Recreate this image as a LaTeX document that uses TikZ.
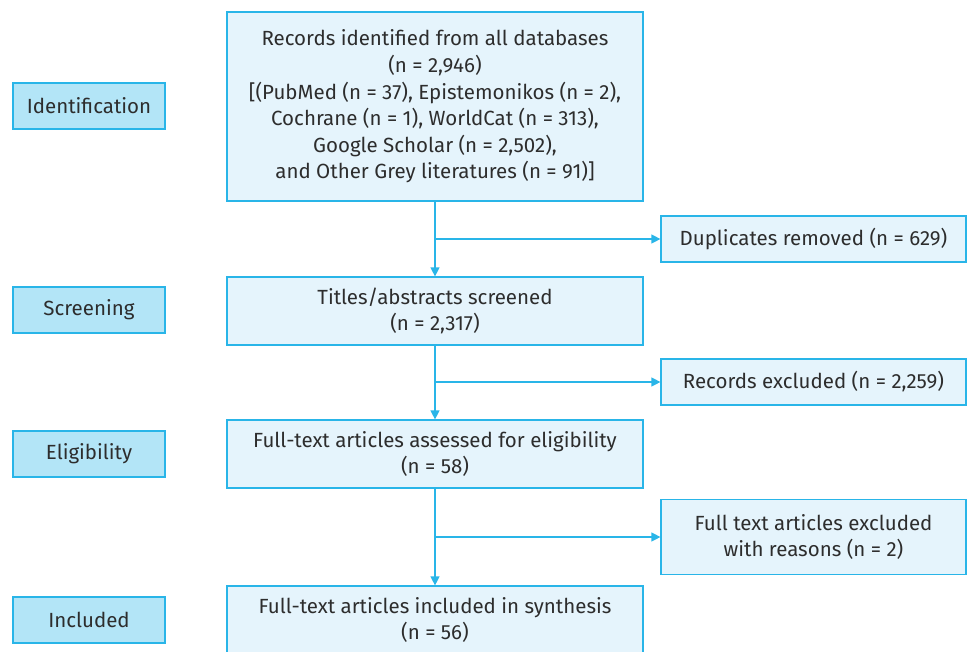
\documentclass[tikz,border=0pt]{standalone}
\usepackage{fontspec}
\setmainfont{Fira Sans}
\usepackage{xcolor}
\usepackage{tikz}
\usetikzlibrary{arrows.meta,calc,positioning}
\definecolor{flowline}{RGB}{41,181,232}
\definecolor{stagefill}{RGB}{179,229,247}
\definecolor{boxfill}{RGB}{229,244,252}
\definecolor{flowtext}{RGB}{45,45,45}
\tikzset{
  stage/.style={rectangle,draw=flowline,fill=stagefill,line width=1.2pt,
    minimum width=152pt,minimum height=46pt,inner sep=2pt,
    font=\fontsize{20.5}{26.6}\selectfont,text=flowtext,align=center},
  flowbox/.style={rectangle,draw=flowline,fill=boxfill,line width=1.2pt,
    minimum width=416pt,inner sep=2pt,
    font=\fontsize{20.5}{26.6}\selectfont,text=flowtext,align=center},
  sidebox/.style={flowbox,minimum width=305pt,minimum height=46pt},
  flowarc/.style={-{Triangle[length=9pt,width=9pt]},line width=1.2pt,flowline}
}
\begin{document}
\begin{tikzpicture}[x=1pt,y=-1pt]
  \useasboundingbox (0,0) rectangle (968,651);
  % stage labels
  \node[stage] (ident) at (89,106) {Identification};
  \node[stage] (screen) at (89,310) {Screening};
  \node[stage] (elig) at (89,454) {Eligibility};
  \node[stage] (incl) at (89,620) {Included};
  % main column
  \node[flowbox,minimum height=189pt] (records) at (435,106.5)
    {Records identified from all databases\\(n = 2,946)\\
     {[}(PubMed (n = 37), Epistemonikos (n = 2),\\
     Cochrane (n = 1), WorldCat (n = 313),\\
     Google Scholar (n = 2,502),\\
     and Other Grey literatures (n = 91)]};
  \node[flowbox,minimum height=68pt] (titles) at (435,311)
    {Titles/abstracts screened\\(n = 2,317)};
  \node[flowbox,minimum height=68pt] (assess) at (435,454)
    {Full-text articles assessed for eligibility\\(n = 58)};
  \node[flowbox,minimum height=68pt] (synth) at (435,620)
    {Full-text articles included in synthesis\\(n = 56)};
  % exclusions
  \node[sidebox] (dup) at (813.5,239) {Duplicates removed (n = 629)};
  \node[sidebox] (excl) at (813.5,382) {Records excluded (n = 2,259)};
  \node[sidebox,minimum height=75pt] (ftexcl) at (813.5,537)
    {Full text articles excluded\\with reasons (n = 2)};
  \coordinate (b1) at (records.south |- dup.west);
  \coordinate (b2) at (titles.south |- excl.west);
  \coordinate (b3) at (assess.south |- ftexcl.west);
  \draw[flowarc] (records.south) -- (titles.north);
  \draw[flowarc] (titles.south) -- (assess.north);
  \draw[flowarc] (assess.south) -- (synth.north);
  \draw[flowarc] (b1) -- (dup.west);
  \draw[flowarc] (b2) -- (excl.west);
  \draw[flowarc] (b3) -- (ftexcl.west);
\end{tikzpicture}
\end{document}
